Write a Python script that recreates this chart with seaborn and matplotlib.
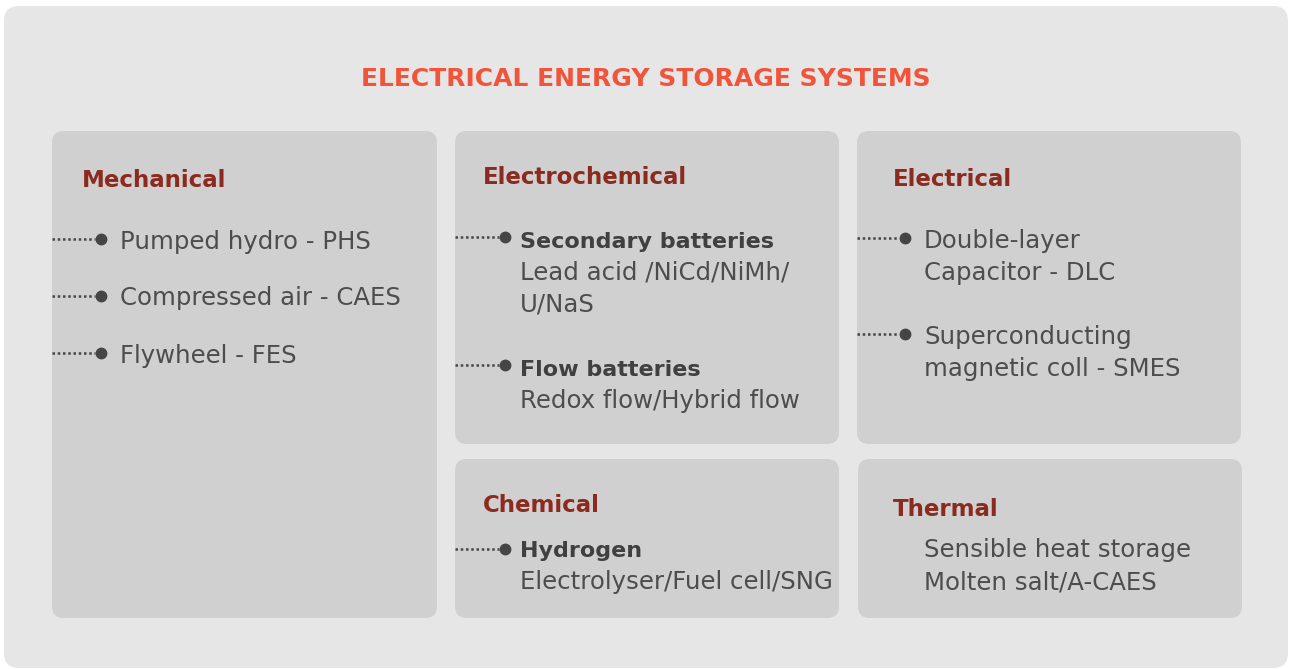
import matplotlib
matplotlib.use('Agg')
import matplotlib.pyplot as plt
import seaborn as sns
from matplotlib.patches import FancyBboxPatch

# Text content of the diagram
title = "ELECTRICAL ENERGY STORAGE SYSTEMS"
categories = ["Mechanical", "Electrochemical", "Electrical", "Chemical", "Thermal"]
mechanical_items = ["Pumped hydro - PHS", "Compressed air - CAES", "Flywheel - FES"]
electrochemical_heads = ["Secondary batteries", "Flow batteries"]
electrochemical_subs = [["Lead acid /NiCd/NiMh/", "U/NaS"], ["Redox flow/Hybrid flow"]]
electrical_items = [["Double-layer", "Capacitor - DLC"],
                    ["Superconducting", "magnetic coll - SMES"]]
chemical_heads = ["Hydrogen"]
chemical_subs = [["Electrolyser/Fuel cell/SNG"]]
thermal_lines = ["Sensible heat storage", "Molten salt/A-CAES"]

sns.set_theme(style="white")
plt.rcParams['font.family'] = ['DejaVu Sans']

BG = '#e6e6e6'
BOX = '#d0d0d0'
HEAD = '#8b2a1f'
TITLE = '#f0553b'
TXT = '#4d4d4d'
BOLD = '#404040'
LINE_H = 32

fig = plt.figure(figsize=(12.9, 6.69), dpi=100)
fig.patch.set_facecolor('white')
ax = fig.add_axes([0, 0, 1, 1])
ax.set_xlim(0, 1290)
ax.set_ylim(669, 0)
ax.axis('off')


def rbox(x0, y0, x1, y1, color, r):
    ax.add_patch(FancyBboxPatch((x0, y0), x1 - x0, y1 - y0,
                                boxstyle=f"round,pad=0,rounding_size={r}",
                                fc=color, ec='none', zorder=1))


def connector(x0, xdot, y):
    ax.plot([x0, xdot - 6], [y, y], color='#454545', lw=1.8,
            linestyle=(0, (1, 1.1)), dash_capstyle='butt', zorder=3)
    ax.plot([xdot], [y], 'o', color='#454545', ms=7.5, zorder=4)


def txt(x, y, s, size, color, bold=False):
    ax.text(x, y, s, fontsize=size, color=color, va='baseline', ha='left',
            fontweight='bold' if bold else 'normal', zorder=5)


rbox(4, 6, 1288, 668, BG, 15)
ax.text(646, 86, title, fontsize=18, color=TITLE, fontweight='bold',
        ha='center', va='baseline', zorder=5)

# boxes: (x0, y0, x1, y1)
boxes = [(52, 131, 437, 618), (455, 131, 839, 444), (857, 131, 1241, 444),
         (455, 459, 839, 618), (858, 459, 1242, 618)]
head_pos = [(82, 187), (483, 184), (893, 186.5), (483, 512.5), (893, 516)]
for (x0, y0, x1, y1), name, (hx, hy) in zip(boxes, categories, head_pos):
    rbox(x0, y0, x1, y1, BOX, 12)
    txt(hx, hy, name, 16.5, HEAD, bold=True)

REG = 17.6
BSZ = 16

# Mechanical
for i, item in enumerate(mechanical_items):
    yb = 248.5 + i * 57
    connector(52, 101, yb - 9.5)
    txt(120, yb, item, REG, TXT)

# Electrochemical
yb = 248
for head, subs in zip(electrochemical_heads, electrochemical_subs):
    connector(455, 505, yb - 11)
    txt(520, yb, head, BSZ, BOLD, bold=True)
    for j, s in enumerate(subs):
        txt(520, yb + (j + 1) * LINE_H, s, REG, TXT)
    yb = 376

# Electrical
for i, lines in enumerate(electrical_items):
    yb = 248 + i * 96
    connector(857, 905, yb - 10.5)
    for j, s in enumerate(lines):
        txt(924, yb + j * LINE_H, s, REG, TXT)

# Chemical
for head, subs in zip(chemical_heads, chemical_subs):
    yb = 557
    connector(455, 505, yb - 8)
    txt(520, yb, head, BSZ, BOLD, bold=True)
    for j, s in enumerate(subs):
        txt(520, yb + (j + 1) * LINE_H, s, REG, TXT)

# Thermal
for j, s in enumerate(thermal_lines):
    txt(924, 557 + j * LINE_H, s, REG, TXT)

fig.savefig('out.png', dpi=100, facecolor='white')
